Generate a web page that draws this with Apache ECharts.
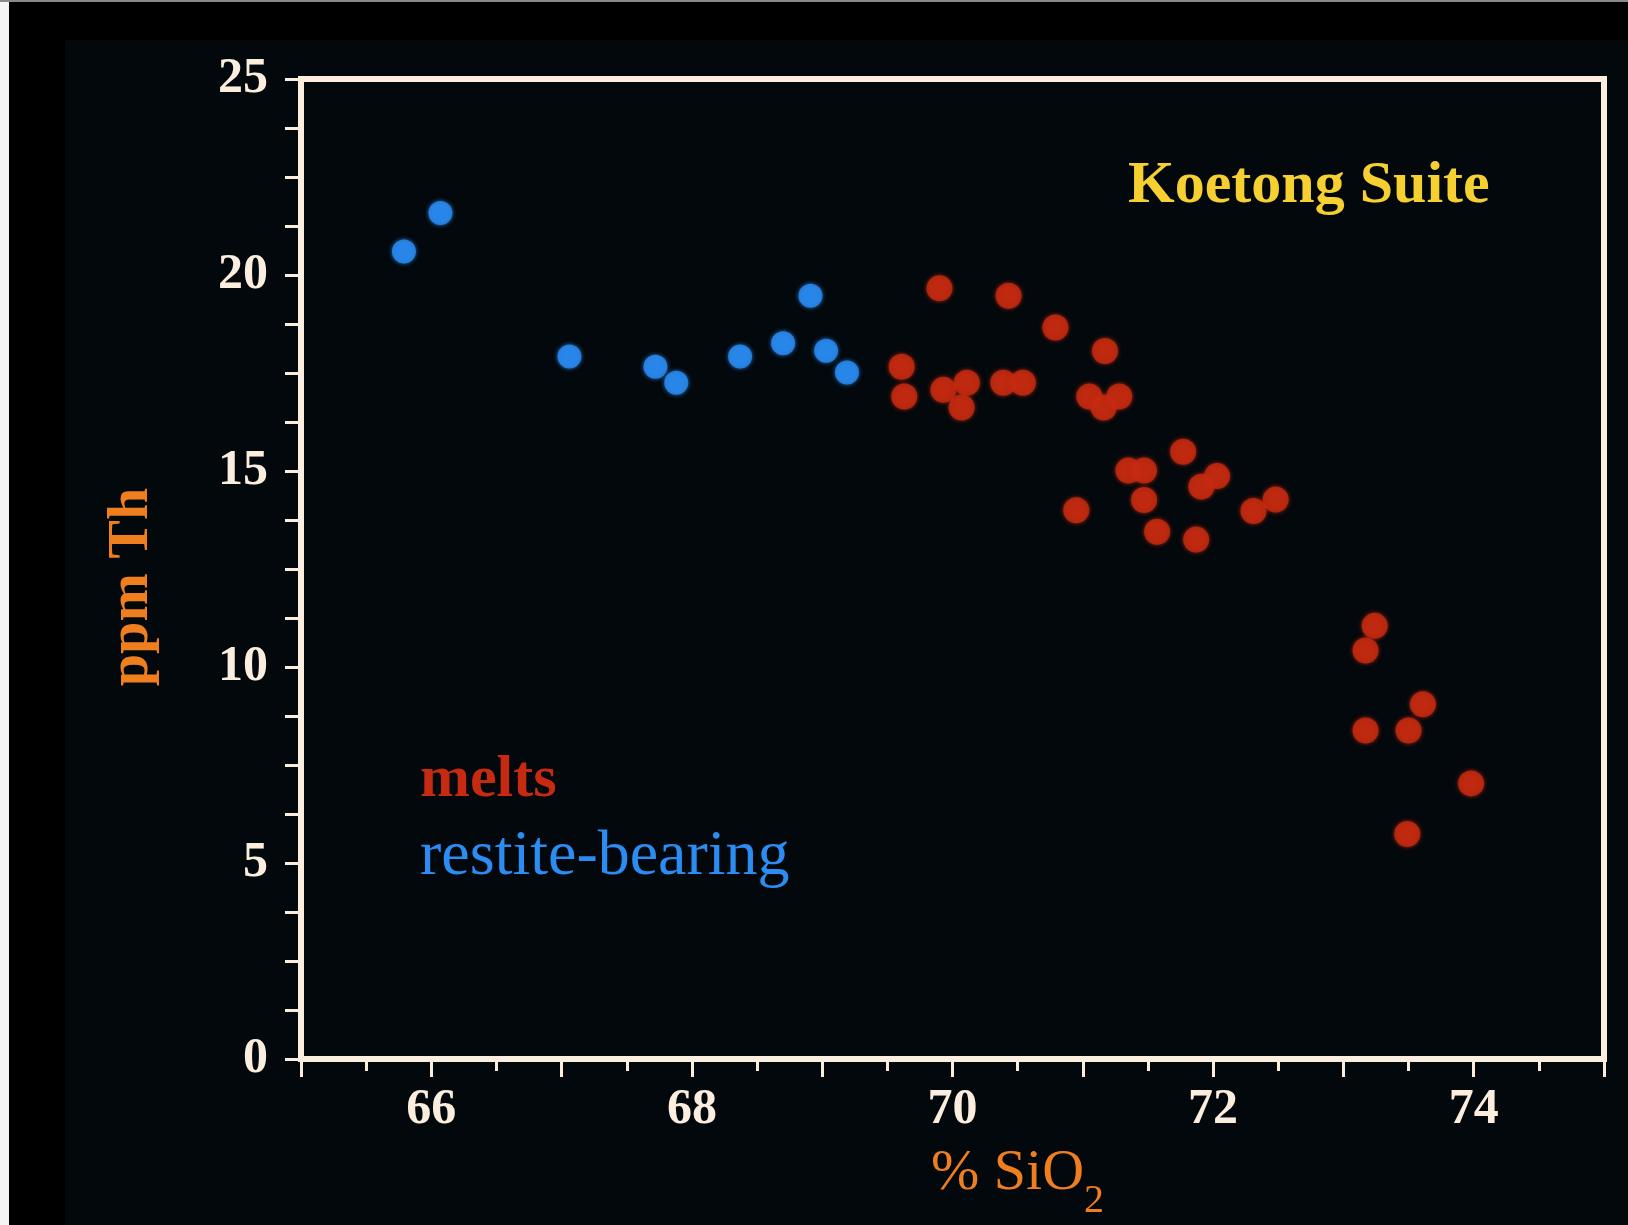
<!DOCTYPE html>
<html>
<head>
<meta charset="utf-8">
<title>Koetong Suite</title>
<script src="https://cdn.jsdelivr.net/npm/echarts@6/dist/echarts.min.js"></script>
<style>
  html, body { margin: 0; padding: 0; background: #000; }
  #chart { width: 1628px; height: 1225px; }
</style>
</head>
<body>
<div id="chart"></div>
<script>
// melts (red)
const meltsSiO2 = [69.90, 70.43, 70.79, 71.17, 69.61, 69.63, 69.93, 70.11, 70.07, 70.39, 70.54,
  71.05, 71.16, 71.28, 71.77, 71.35, 71.47, 72.03, 71.91, 71.47, 70.95, 72.48, 72.31, 71.57,
  71.87, 73.24, 73.17, 73.61, 73.17, 73.50, 73.98, 73.49];
const meltsTh = [19.66, 19.47, 18.66, 18.06, 17.66, 16.90, 17.07, 17.25, 16.62, 17.25, 17.25,
  16.90, 16.62, 16.90, 15.49, 15.01, 15.01, 14.87, 14.60, 14.26, 14.00, 14.27, 13.98, 13.45,
  13.25, 11.05, 10.42, 9.05, 8.38, 8.38, 7.03, 5.74];

// restite-bearing (blue)
const restiteSiO2 = [65.79, 66.07, 67.06, 67.72, 67.88, 68.37, 68.70, 68.91, 69.03, 69.19];
const restiteTh = [20.60, 21.58, 17.92, 17.66, 17.25, 17.92, 18.26, 19.47, 18.07, 17.51];

const xLabels = [66, 68, 70, 72, 74];

const cream = "#fbeede";
const redDot = "#c62a10";
const blueDot = "#2b8cf2";
const orange = "#ef7f1e";

const zip = (xs, ys) => xs.map((x, i) => [x, ys[i]]);

const myChart = echarts.init(document.getElementById("chart"));

const options = {
  backgroundColor: "#000",
  animation: false,
  graphic: [
    // slide edges
    { type: "rect", left: 0, top: 0, shape: { width: 9, height: 1225 }, style: { fill: "#f4f4f4" } },
    { type: "rect", left: 0, top: 0, shape: { width: 1628, height: 2 }, style: { fill: "#8a8a8a" } },
    { type: "rect", left: 65, top: 40, z: -10, shape: { width: 1563, height: 1185 }, style: { fill: "#03080c" } },
    {
      type: "text",
      left: 1128,
      top: 156,
      style: {
        text: "Koetong Suite",
        fill: "#f6d030",
        font: "bold 60px 'Liberation Serif'"
      }
    }
  ],
  grid: {
    left: 301,
    right: 24,
    top: 79,
    bottom: 166,
    containLabel: false,
    outerBoundsMode: "none",
    show: true,
    borderWidth: 6,
    borderColor: cream
  },
  legend: {
    orient: "vertical",
    left: 415,
    top: 750,
    padding: 0,
    itemWidth: 0,
    itemHeight: 0,
    itemGap: 15,
    selectedMode: false,
    textStyle: { fontFamily: "Liberation Serif", fontSize: 60, lineHeight: 60 },
    data: [
      { name: "melts", icon: "none", textStyle: { color: redDot, fontWeight: "bold", fontSize: 60 } },
      { name: "restite-bearing", icon: "none", textStyle: { color: blueDot, fontSize: 64 } }
    ]
  },
  xAxis: {
    type: "value",
    min: 65,
    max: 75,
    interval: 1,
    name: "{a|% SiO}{b|2}",
    nameLocation: "middle",
    nameGap: 86,
    nameTextStyle: {
      padding: [0, 0, 0, 130],
      rich: {
        a: { fontFamily: "Liberation Serif", fontSize: 58, color: orange, lineHeight: 60, verticalAlign: "top" },
        b: { fontFamily: "Liberation Serif", fontSize: 40, color: orange, lineHeight: 76, verticalAlign: "bottom" }
      }
    },
    axisLine: { show: true, lineStyle: { color: cream, width: 6 } },
    axisTick: { show: true, inside: false, length: 18, lineStyle: { color: cream, width: 3 } },
    minorTick: { show: true, splitNumber: 2, length: 12, lineStyle: { color: cream, width: 3 } },
    splitLine: { show: false },
    axisLabel: {
      margin: 26,
      color: cream,
      fontFamily: "Liberation Serif",
      fontWeight: "bold",
      fontSize: 50,
      formatter: (v) => (xLabels.includes(v) ? String(v) : "")
    }
  },
  yAxis: {
    type: "value",
    min: 0,
    max: 25,
    interval: 5,
    name: "ppm Th",
    nameLocation: "middle",
    nameGap: 140,
    nameTextStyle: {
      fontFamily: "Liberation Serif",
      fontWeight: "bold",
      fontSize: 58,
      color: orange,
      padding: [0, 36, 0, 0]
    },
    axisLine: { show: true, lineStyle: { color: cream, width: 6 } },
    axisTick: { show: true, inside: false, length: 16, lineStyle: { color: cream, width: 3 } },
    minorTick: { show: true, splitNumber: 4, length: 16, lineStyle: { color: cream, width: 3 } },
    splitLine: { show: false },
    axisLabel: {
      margin: 33,
      color: cream,
      fontFamily: "Liberation Serif",
      fontWeight: "bold",
      fontSize: 50
    }
  },
  series: [
    {
      name: "melts",
      type: "scatter",
      symbol: "circle",
      symbolSize: 26,
      itemStyle: { color: redDot, shadowBlur: 4, shadowColor: redDot },
      data: zip(meltsSiO2, meltsTh)
    },
    {
      name: "restite-bearing",
      type: "scatter",
      symbol: "circle",
      symbolSize: 24,
      itemStyle: { color: blueDot, shadowBlur: 4, shadowColor: blueDot },
      data: zip(restiteSiO2, restiteTh)
    }
  ]
};

myChart.setOption(options);
</script>
</body>
</html>
